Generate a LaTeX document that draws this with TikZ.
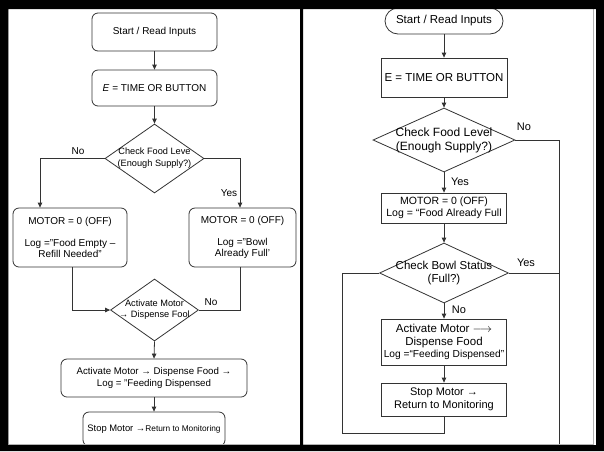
\documentclass[tikz,border=0pt]{standalone}
\usepackage{fontspec}
\setmainfont{Liberation Sans}
\usetikzlibrary{shapes.geometric,arrows.meta}
\newcommand\txtsize[2]{\fontsize{#1}{#2}\selectfont}

\begin{document}
\begin{tikzpicture}[x=1pt,y=-1pt,
  line/.style={draw=black!80, line width=0.8pt},
  flow/.style={line, -{Triangle[length=5pt,width=4.5pt]}},
  rbox/.style={line, rectangle, rounded corners=6pt, align=center, inner sep=0pt},
  sbox/.style={line, rectangle, align=center, inner sep=0pt},
  dec/.style={line, diamond, inner sep=0pt},
  tag/.style={inner sep=0pt},
]
\useasboundingbox (0,0) rectangle (604,451);
\fill[white] (0,0) rectangle (604,451);

% ---------------- left flowchart ----------------
\node[rbox, minimum width=125pt, minimum height=38pt, font=\txtsize{10}{12}] (ls) at (154.5,32) {Start / Read Inputs};
\node[rbox, minimum width=125pt, minimum height=36pt, font=\txtsize{10}{12}] (le) at (154.5,88) {\textit{E} = TIME OR BUTTON};
\node[dec, minimum width=99pt, minimum height=69pt,
  label={[name=ld1t, font=\txtsize{9.2}{12}, align=center]center:{Check Food Leve\\(Enough Supply?)}}] (ld1) at (154.5,158.5) {};
\node[rbox, minimum width=114pt, minimum height=59pt, font=\txtsize{10}{11}] (lb1) at (70,237.5)
  {MOTOR = 0 (OFF)\\[11pt]Log ="Food Empty –\\Refill Needed"};
\node[rbox, minimum width=107pt, minimum height=59pt, font=\txtsize{10}{11}] (lb2) at (242.5,237.5)
  {MOTOR = 0 (OFF)\\[11pt]Log ="Bowl\\Already Full'};
\node[dec, minimum width=88pt, minimum height=62pt,
  label={[name=ld2t, font=\txtsize{9.2}{11}, align=center]center:{Activate Motor\\→ Dispense Fool}}] (ld2) at (154.5,310) {};
\node[rbox, minimum width=186pt, minimum height=38pt, font=\txtsize{9.7}{12}] (lb3) at (154,378)
  {Activate Motor → Dispense Food →\\Log = "Feeding Dispensed};
\node[rbox, minimum width=142pt, minimum height=34pt, font=\txtsize{9.4}{12}] (lb4) at (154,429)
  {Stop Motor →{\txtsize{8.3}{12}Return to Monitoring}};

\draw[flow] (ls.south) -- (le.north);
\draw[flow] (le.south) -- (ld1.north);
\draw[flow] (ld1.west) -| ([xshift=-30pt]lb1.north);
\draw[flow] (ld1.east) -| ([xshift=-2.5pt]lb2.north);
\draw[flow] ([xshift=2pt]lb1.south) |- (ld2.west);
\draw[line] ([xshift=-2.5pt]lb2.south) |- (ld2.east);
\draw[flow] (ld2.south) -- (lb3.north);
\draw[flow] (lb3.south) -- (lb4.north);

\node[tag, font=\txtsize{10}{12}] (lno1) at (78,151) {No};
\node[tag, font=\txtsize{10}{12}] (lyes1) at (229,193) {Yes};
\node[tag, font=\txtsize{10}{12}] (lno2) at (211,302) {No};

% ---------------- right flowchart ----------------
\node[line, rectangle, rounded corners=13pt, minimum width=118pt, minimum height=26pt, inner sep=0pt, font=\txtsize{11.5}{13}] (rs) at (444,21) {Start / Read Inputs};
\node[sbox, minimum width=126pt, minimum height=39pt, font=\txtsize{11.5}{13}] (re) at (444,77.5) {E = TIME OR BUTTON};
\node[dec, minimum width=142pt, minimum height=64pt,
  label={[name=rd1t, font=\txtsize{12}{14}, align=center]center:{Check Food Level\\(Enough Supply?)}}] (rd1) at (444,140) {};
\node[sbox, minimum width=125pt, minimum height=30pt, font=\txtsize{10.5}{12}] (rb1) at (444,208)
  {MOTOR = 0 (OFF)\\Log = “Food Already Full};
\node[dec, minimum width=129pt, minimum height=60pt,
  label={[name=rd2t, font=\txtsize{11.5}{13}, align=center]center:{Check Bowl Status\\(Full?)}}] (rd2) at (444,273) {};
\node[sbox, minimum width=125pt, minimum height=46pt, font=\txtsize{11.5}{12.5}] (rb2) at (444,342)
  {Activate Motor \(\longrightarrow\)\\Dispense Food\\{\txtsize{10.2}{12}Log =“Feeding Dispensed”}};
\node[sbox, minimum width=125pt, minimum height=33pt, font=\txtsize{11}{13}] (rb3) at (444,399.5)
  {Stop Motor →\\Return to Monitoring};

\coordinate (rend) at (559,447);
\coordinate (rloop) at (342,433);

\draw[flow] (rs.south) -- (re.north);
\draw[flow] (re.south) -- (rd1.north);
\draw[line] (rd1.east) -| (rend);
\draw[flow] (rd1.south) -- (rb1.north);
\draw[flow] (rb1.south) -- (rd2.north);
\draw[line] (rd2.east) -- (rd2.east -| rend);
\draw[flow] (rd2.south) -- (rb2.north);
\draw[flow] (rb2.south) -- (rb3.north);
\draw[line] (rb3.south) |- (rloop) |- (rd2.west);

\node[tag, font=\txtsize{11}{13}] (rno1) at (524,127) {No};
\node[tag, font=\txtsize{11}{13}] (ryes1) at (460,182) {Yes};
\node[tag, font=\txtsize{11}{13}] (ryes2) at (526,263) {Yes};
\node[tag, font=\txtsize{11}{13}] (rno2) at (459,310) {No};

% ---------------- frame ----------------
\draw[black!30, line width=0.6pt] (8.5,9) -- (8.5,444.5) -- (300,444.5);
\draw[black!30, line width=0.6pt] (593.5,9) -- (593.5,444.5) -- (303,444.5);
\fill[black, even odd rule] (0,0) rectangle (604,451) (8,9) rectangle (300,445) (303,9) rectangle (596,445);
\end{tikzpicture}
\end{document}
